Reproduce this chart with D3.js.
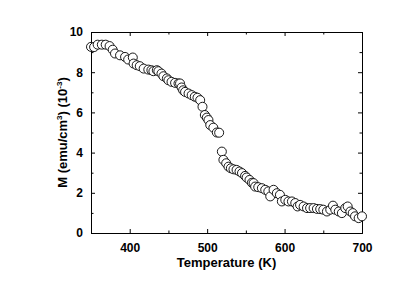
<!DOCTYPE html>
<html>
<head>
<meta charset="utf-8">
<script src="https://cdn.jsdelivr.net/npm/d3@7"></script>
<style>
  body { margin: 0; background: #fff; }
  svg text { font-family: "Liberation Sans", Arial, sans-serif; font-weight: bold; fill: #000; }
</style>
</head>
<body>
<div class="chart"></div>
<script>
// temperature (K) and magnetisation (10^-3 emu/cm^3)
const temps = [350, 354, 358.6, 364, 369, 374, 378, 381, 387.5, 394, 398, 404, 405, 409, 413,
  418, 424, 428, 430.6, 435, 437, 441, 443.5, 448, 450, 454, 458.6, 463, 465, 467, 469, 471.5,
  476, 480, 484, 487.5, 491, 494, 497, 499.6, 501.7, 504, 508, 512.5, 515.5,
  519, 521, 524.6, 527.6, 530.6, 534, 538, 541.8, 545, 549, 551, 554.7, 557.8, 560, 562, 566,
  570.7, 575, 579, 581.5, 585.8, 590, 594, 596.5, 600.9, 605, 609.5, 613.8, 616.8, 620, 624.6,
  629, 633, 637.5, 641.8, 646, 650, 654.7, 659, 662.5, 665.5, 670, 674, 678.4, 681.5, 685, 688,
  691, 695.7, 700];
const moment = [9.26, 9.25, 9.37, 9.37, 9.37, 9.3, 9.12, 8.93, 8.84, 8.76, 8.63, 8.73, 8.43, 8.35, 8.3,
  8.18, 8.13, 8.1, 8.05, 8.1, 8.05, 7.93, 7.8, 7.69, 7.6, 7.52, 7.47, 7.44, 7.44, 7.24, 7.1, 7.02,
  6.94, 6.86, 6.78, 6.73, 6.61, 6.28, 5.87, 5.74, 5.62, 5.37, 5.24, 5.0, 4.99,
  4.05, 3.64, 3.47, 3.3, 3.22, 3.17, 3.14, 3.06, 2.98, 2.84, 2.76, 2.64, 2.5, 2.48, 2.31, 2.28,
  2.23, 2.15, 2.07, 1.82, 2.15, 1.98, 1.9, 1.57, 1.65, 1.57, 1.57, 1.49, 1.32, 1.4, 1.32,
  1.24, 1.24, 1.24, 1.2, 1.19, 1.16, 1.07, 1.16, 1.36, 1.16, 1.07, 0.99, 1.24, 1.32, 1.07, 0.99,
  0.83, 0.74, 0.83];
const xTicks = [400, 500, 600, 700];
const xMinor = [450, 550, 650];
const yTicks = [0, 2, 4, 6, 8, 10];
const yMinor = [1, 3, 5, 7, 9];

let margin = {top: 32, right: 53, bottom: 61, left: 91},
    width = 415 - margin.left - margin.right,
    height = 294 - margin.top - margin.bottom;

let svg = d3.select(".chart")
  .append("svg")
  .attr("width", 415)
  .attr("height", 294)
  .append("g")
  .attr("transform", "translate(" + margin.left + "," + margin.top + ")");

let x = d3.scaleLinear().domain([350, 700]).range([0, width]);
let y = d3.scaleLinear().domain([0, 10]).range([height, 0]);

// frame with inward ticks on all four sides
function styleAxis(g) {
  g.select(".domain").attr("stroke", "#000").attr("stroke-width", 1);
  g.selectAll("line").attr("stroke", "#000").attr("stroke-width", 1);
}

svg.append("g")
  .attr("transform", "translate(0," + height + ")")
  .call(d3.axisBottom(x).tickValues(xTicks).tickSize(-4).tickPadding(10).tickSizeOuter(0))
  .call(styleAxis)
  .call(g => g.selectAll("text").style("font-size", "12px"));
svg.append("g")
  .attr("transform", "translate(0," + height + ")")
  .call(d3.axisBottom(x).tickValues(xMinor).tickSize(-2.5).tickFormat("").tickSizeOuter(0))
  .call(styleAxis);
svg.append("g")
  .call(d3.axisTop(x).tickValues(xTicks).tickSize(-4).tickFormat("").tickSizeOuter(0))
  .call(styleAxis);
svg.append("g")
  .call(d3.axisTop(x).tickValues(xMinor).tickSize(-2.5).tickFormat("").tickSizeOuter(0))
  .call(styleAxis);

svg.append("g")
  .call(d3.axisLeft(y).tickValues(yTicks).tickSize(-4).tickPadding(8).tickSizeOuter(0))
  .call(styleAxis)
  .call(g => g.selectAll("text").style("font-size", "12px"));
svg.append("g")
  .call(d3.axisLeft(y).tickValues(yMinor).tickSize(-2.5).tickFormat("").tickSizeOuter(0))
  .call(styleAxis);
svg.append("g")
  .attr("transform", "translate(" + width + ",0)")
  .call(d3.axisRight(y).tickValues(yTicks).tickSize(-4).tickFormat("").tickSizeOuter(0))
  .call(styleAxis);
svg.append("g")
  .attr("transform", "translate(" + width + ",0)")
  .call(d3.axisRight(y).tickValues(yMinor).tickSize(-2.5).tickFormat("").tickSizeOuter(0))
  .call(styleAxis);

// markers
let pts = temps.map((t, i) => ({t: t, m: moment[i]}));
svg.append("g")
  .selectAll("circle")
  .data(pts)
  .enter().append("circle")
  .attr("cx", d => x(d.t))
  .attr("cy", d => y(d.m))
  .attr("r", 4.5)
  .attr("fill", "#fff")
  .attr("stroke", "#000")
  .attr("stroke-width", 0.9);

// axis titles
svg.append("text")
  .attr("x", width / 2)
  .attr("y", height + 34)
  .attr("text-anchor", "middle")
  .style("font-size", "13px")
  .text("Temperature (K)");

let yl = svg.append("text")
  .attr("transform", "translate(-24," + (height / 2) + ") rotate(-90)")
  .attr("text-anchor", "middle")
  .style("font-size", "13px");
yl.append("tspan").text("M (emu/cm");
yl.append("tspan").attr("dy", -5).style("font-size", "8px").text("3");
yl.append("tspan").attr("dy", 5).text(") (10");
yl.append("tspan").attr("dy", -5).style("font-size", "8px").text("-3");
yl.append("tspan").attr("dy", 5).text(")");
</script>
</body>
</html>
